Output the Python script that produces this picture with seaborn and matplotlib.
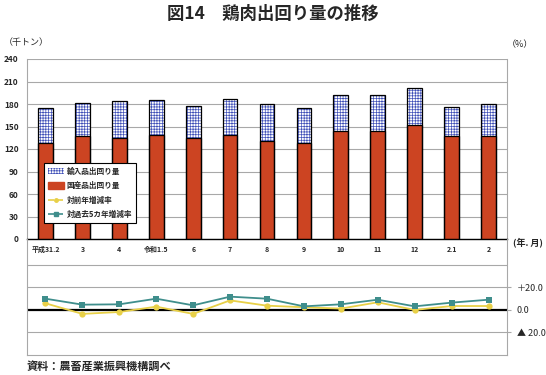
import numpy as np
import pandas as pd
import seaborn as sns
import matplotlib.pyplot as plt
from matplotlib.patches import Patch
from matplotlib.lines import Line2D

# データ（千トン・％）
labels = ["平成31.2", "3", "4", "令和1.5", "6", "7", "8", "9", "10", "11", "12", "2.1", "2"]
kokusan = [127.8, 137.6, 134.9, 138.5, 134.9, 138.5, 130.5, 127.8, 144.3, 143.8, 151.8, 137.1, 137.1]
total = [174.5, 181.7, 183.9, 185.7, 177.6, 186.6, 180.3, 174.5, 191.9, 191.9, 201.2, 175.9, 180.3]
zenen = [5.9, -3.5, -1.8, 2.9, -3.5, 8.5, 3.8, 2.4, 1.2, 6.8, 0.0, 3.5, 3.5]
kako5 = [10.0, 4.7, 5.0, 10.0, 4.1, 11.8, 10.0, 3.2, 5.0, 9.1, 3.2, 6.5, 9.1]

sns.set_style("white")
plt.rcParams['font.family'] = ['Noto Sans CJK JP', 'DejaVu Sans']

df = pd.DataFrame({"label": labels, "kokusan": kokusan, "total": total,
                   "zenen": zenen, "kako5": kako5})
x = np.arange(len(labels))

RED = "#CC4422"
BLUE = "#4050B8"
TEAL = "#3F8E8C"
YEL = "#E8D048"
GRID = "#A8A8A8"

fig = plt.figure(figsize=(5.46, 3.75), dpi=100)
ax = fig.add_axes([27/546, (375-239)/375, 480/546, 180/375])
ax2 = fig.add_axes([27/546, (375-355)/375, 480/546, (355-239)/375])
ax2.set_facecolor("none")

# 上段：棒グラフ
plt.rcParams['hatch.linewidth'] = 0.5
sns.barplot(data=df, x="label", y="total", ax=ax, color="white", edgecolor=BLUE,
            hatch="++++++", linewidth=0, width=0.4, saturation=1, zorder=2)
sns.barplot(data=df, x="label", y="kokusan", ax=ax, color=RED, linewidth=0,
            width=0.4, saturation=1, zorder=3)
sns.barplot(data=df, x="label", y="total", ax=ax, fill=False, edgecolor="black",
            linewidth=0.9, width=0.4, zorder=4)
for p in ax.patches[len(labels):2*len(labels)]:
    p.set_edgecolor("black")
    p.set_linewidth(0.9)

ax.set_xlim(-0.5, len(labels) - 0.5)
ax.set_ylim(0, 240)
ax.set_yticks(range(0, 241, 30))
ax.yaxis.grid(True, color=GRID, linewidth=0.8, zorder=0)
ax.set_axisbelow(True)
ax.set_xlabel("")
ax.set_ylabel("")
for s in ["top", "right", "left"]:
    ax.spines[s].set_color(GRID)
    ax.spines[s].set_linewidth(0.8)
ax.spines["top"].set_visible(False)
ax.spines["bottom"].set_color("black")
ax.spines["bottom"].set_linewidth(1.0)
ax.tick_params(axis="y", labelsize=6, length=0, pad=6)
ax.set_xticks(x)
ax.set_xticklabels(labels, fontsize=5)
ax.tick_params(axis="x", length=0, pad=5)
ax.set_xticks(np.arange(-0.5, len(labels), 1), minor=True)
ax.tick_params(axis="x", which="minor", length=3, color=GRID, width=0.7)
for t in ax.get_yticklabels() + ax.get_xticklabels():
    t.set_fontweight("bold")

# 下段：増減率
sns.lineplot(data=df, x=x, y="kako5", ax=ax2, color=TEAL, marker="s", markersize=5,
             markeredgewidth=0, linewidth=1.3, zorder=4)
sns.lineplot(data=df, x=x, y="zenen", ax=ax2, color=YEL, marker="o", markersize=4.5,
             markeredgewidth=0, linewidth=1.3, zorder=3)
ax2.set_xlim(-0.5, len(labels) - 0.5)
ax2.set_ylim(-40, 63)
ax2.set_xticks([])
ax2.set_xlabel("")
ax2.set_ylabel("")
for yv in [40, 20, -20]:
    ax2.axhline(yv, color=GRID, linewidth=0.8, zorder=1)
ax2.axhline(0, color="black", linewidth=1.6, zorder=2)
ax2.spines["top"].set_visible(False)
for s in ["left", "right", "bottom"]:
    ax2.spines[s].set_color(GRID)
    ax2.spines[s].set_linewidth(0.8)
ax2.yaxis.tick_right()
ax2.set_yticks([20, 0, -20])
ax2.set_yticklabels(["＋20.0", "0.0", "▲ 20.0"], fontsize=6.5)
ax2.tick_params(axis="y", length=3, color=GRID, pad=4)

# 凡例
handles = [
    Patch(facecolor="white", edgecolor=BLUE, hatch="++++++", linewidth=0),
    Patch(facecolor=RED, edgecolor=RED),
    Line2D([0], [0], color=YEL, linestyle="--", marker="o", markersize=2.5, linewidth=1.2),
    Line2D([0], [0], color=TEAL, linestyle="--", marker="s", markersize=2.5, linewidth=1.2),
]
names = ["輸入品出回り量", "国産品出回り量", "対前年増減率", "対過去5カ年増減率"]
leg = ax.legend(handles, names, loc="lower left", bbox_to_anchor=(0.035, 0.09),
                fontsize=5.5, frameon=True, fancybox=False, framealpha=1,
                handlelength=2.2, handleheight=0.9, handletextpad=0.3,
                labelspacing=0.7, borderpad=0.5, borderaxespad=0)
leg.get_frame().set_edgecolor("black")
leg.get_frame().set_linewidth(0.8)
leg.set_zorder(10)
for t in leg.get_texts():
    t.set_fontweight("bold")

# テキスト
fig.text(0.5, 1 - 14/375, "図14　鶏肉出回り量の推移", ha="center", va="center",
         fontsize=12.5, fontweight="bold")
fig.text(4/546, 1 - 43/375, "（千トン）", ha="left", va="center", fontsize=6.5)
fig.text(520/546, 1 - 45/375, "（%）", ha="center", va="center", fontsize=6.5)
fig.text(543/546, 1 - 242/375, "(年. 月)", ha="right", va="center", fontsize=6.5,
         fontweight="bold")
fig.text(27/546, 1 - 366/375, "資料：農畜産業振興機構調べ", ha="left", va="center",
         fontsize=8, fontweight="bold")

fig.savefig("out.png", dpi=100)
